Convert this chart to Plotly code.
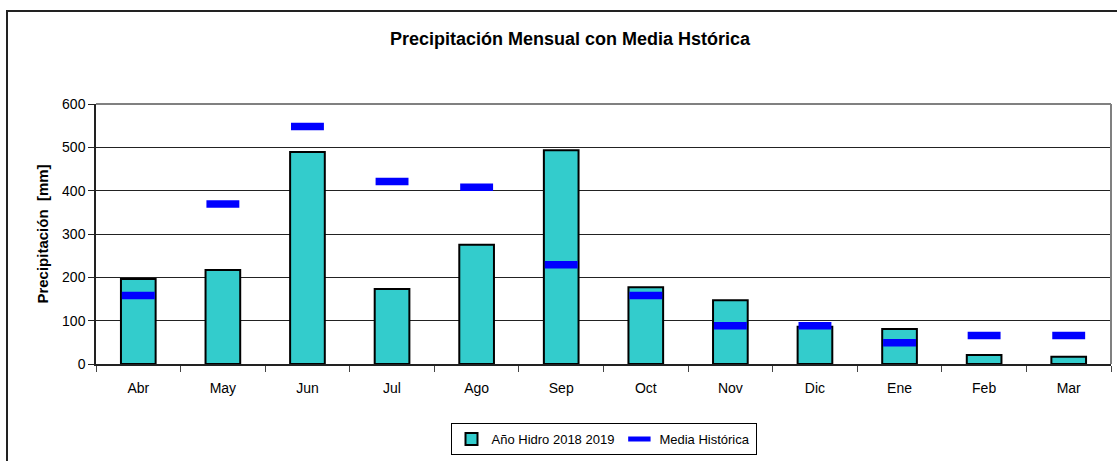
import plotly.graph_objects as go

# Monthly precipitation for the hydrological year and the historical mean
meses = ["Abr", "May", "Jun", "Jul", "Ago", "Sep", "Oct", "Nov", "Dic", "Ene", "Feb", "Mar"]
precip_2018_2019 = [196, 217, 489, 173, 275, 493, 177, 147, 86, 81, 21, 17]
media_historica = [158, 369, 548, 421, 408, 229, 158, 88, 88, 49, 66, 66]

W, H = 1117, 461
L, R, T, B = 96, 6, 104, 94
pw = W - L - R
ph = H - T - B

fig = go.Figure()

fig.add_trace(go.Bar(
    x=meses, y=precip_2018_2019, name="Año Hidro 2018 2019",
    width=0.41,
    marker=dict(color="#33CCCC", line=dict(color="black", width=2)),
))

fig.add_trace(go.Scatter(
    x=meses, y=media_historica, name="Media Histórica",
    mode="markers",
    marker=dict(symbol="line-ew", size=23.5, color="#0000FF",
                line=dict(color="#0000FF", width=7.5)),
))

def px_x(p):
    return (p - L) / pw

def px_y(p):
    return (H - B - p) / ph

shapes = [
    # outer chart frame
    dict(type="rect", xref="paper", yref="paper",
         x0=px_x(7), x1=px_x(W + 20), y0=px_y(H + 20), y1=px_y(10),
         line=dict(color="#222222", width=2), layer="below"),
    # plot area border (top and right)
    dict(type="line", xref="paper", yref="paper", x0=0, x1=1, y0=1, y1=1,
         line=dict(color="#808080", width=2)),
    dict(type="line", xref="paper", yref="paper", x0=1, x1=1, y0=0, y1=1,
         line=dict(color="#808080", width=2)),
]

fig.update_layout(
    width=W, height=H,
    margin=dict(l=L, r=R, t=T, b=B),
    paper_bgcolor="white", plot_bgcolor="white",
    font=dict(family="Liberation Sans, Arial, sans-serif", size=14, color="black"),
    title=dict(text="<b>Precipitación Mensual con Media Hstórica</b>",
               x=570 / W, xref="container", xanchor="center",
               y=1 - 39 / H, yref="container", yanchor="middle",
               font=dict(size=18, color="black")),
    showlegend=True,
    legend=dict(orientation="h", x=0.5, xanchor="center",
                y=px_y(443), yanchor="middle",
                bordercolor="black", borderwidth=1,
                font=dict(size=13), itemwidth=30,
                traceorder="normal"),
    shapes=shapes,
)

fig.update_yaxes(
    range=[0, 600], dtick=100, tickformat="d",
    showgrid=True, gridcolor="#222222", gridwidth=1,
    showline=True, linecolor="#222222", linewidth=1.5,
    ticks="outside", ticklen=6, tickcolor="#222222",
    zeroline=False,
    title=dict(text="<b>Precipitación  [mm]</b>",
               font=dict(family="Liberation Sans Narrow, Arial Narrow, sans-serif", size=15),
               standoff=10),
)

fig.update_xaxes(
    range=[-0.5, 11.5],
    showline=True, linecolor="#222222", linewidth=2,
    ticks="outside", ticklen=6, tickcolor="#444444", tickson="boundaries",
    ticklabelstandoff=10,
    showgrid=False,
)

fig.write_html("out.html")
